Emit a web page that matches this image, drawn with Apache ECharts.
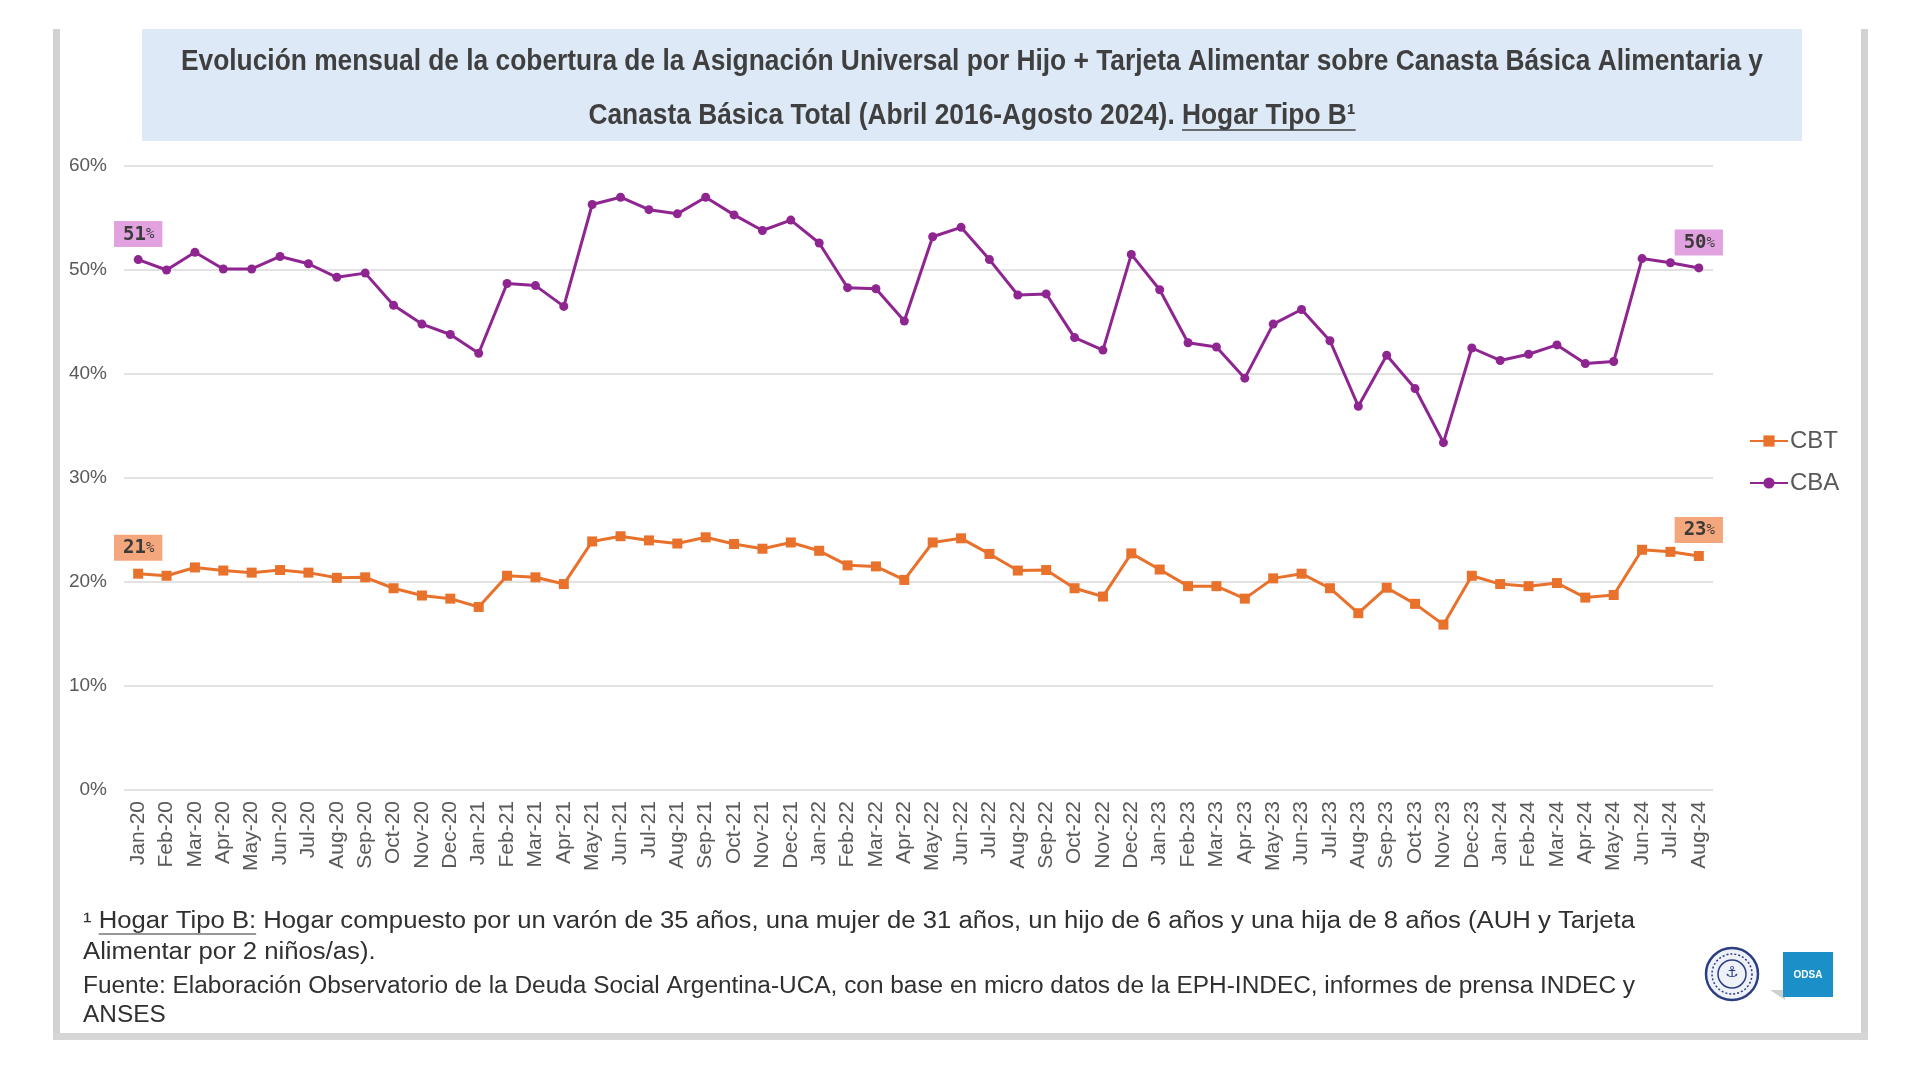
<!DOCTYPE html>
<html>
<head>
<meta charset="utf-8">
<script src="https://cdn.jsdelivr.net/npm/echarts@6/dist/echarts.min.js"></script>
<style>
html,body{margin:0;padding:0;background:#fff;}
#chart{width:1920px;height:1070px;}
</style>
</head>
<body>
<div id="chart"></div>
<script>
// ---------- DATA ----------
const categories = ['Jan-20','Feb-20','Mar-20','Apr-20','May-20','Jun-20','Jul-20','Aug-20','Sep-20','Oct-20','Nov-20','Dec-20',
  'Jan-21','Feb-21','Mar-21','Apr-21','May-21','Jun-21','Jul-21','Aug-21','Sep-21','Oct-21','Nov-21','Dec-21',
  'Jan-22','Feb-22','Mar-22','Apr-22','May-22','Jun-22','Jul-22','Aug-22','Sep-22','Oct-22','Nov-22','Dec-22',
  'Jan-23','Feb-23','Mar-23','Apr-23','May-23','Jun-23','Jul-23','Aug-23','Sep-23','Oct-23','Nov-23','Dec-23',
  'Jan-24','Feb-24','Mar-24','Apr-24','May-24','Jun-24','Jul-24','Aug-24'];

const cbtValues = [20.8,20.6,21.4,21.1,20.9,21.15,20.9,20.4,20.45,19.4,18.7,18.4,
  17.6,20.6,20.45,19.8,23.9,24.4,24.0,23.7,24.3,23.65,23.2,23.8,
  23.0,21.6,21.5,20.2,23.8,24.2,22.7,21.1,21.15,19.4,18.6,22.75,
  21.2,19.6,19.6,18.4,20.35,20.8,19.4,17.0,19.45,17.9,15.9,20.6,
  19.8,19.6,19.9,18.5,18.75,23.1,22.9,22.5];

const cbaValues = [51.0,50.0,51.7,50.1,50.1,51.3,50.6,49.3,49.7,46.6,44.8,43.8,
  42.0,48.7,48.5,46.5,56.3,57.0,55.8,55.4,57.0,55.3,53.8,54.8,
  52.6,48.3,48.2,45.1,53.2,54.1,51.0,47.6,47.7,43.5,42.3,51.5,
  48.1,43.0,42.6,39.6,44.8,46.2,43.2,36.9,41.8,38.6,33.4,42.5,
  41.3,41.9,42.8,41.0,41.2,51.1,50.7,50.2];

const seriesNames = ['CBT','CBA'];
const yTicks = {min:0, max:60, interval:10};

const titleLine1 = 'Evolución mensual de la cobertura de la Asignación Universal por Hijo + Tarjeta Alimentar sobre Canasta Básica Alimentaria y';
const titleLine2a = 'Canasta Básica Total (Abril 2016-Agosto 2024). ';
const titleLine2b = 'Hogar Tipo B¹';
const note1a = '¹ ';
const note1b = 'Hogar Tipo B:';
const note1c = ' Hogar compuesto por un varón de 35 años, una mujer de 31 años, un hijo de 6 años y una hija de 8 años (AUH y Tarjeta';
const note2 = 'Alimentar por 2 niños/as).';
const note3 = 'Fuente: Elaboración Observatorio de la Deuda Social Argentina-UCA, con base en micro datos de la EPH-INDEC, informes de prensa INDEC y';
const note4 = 'ANSES';

// ---------- HELPERS ----------
const mctx = document.createElement('canvas').getContext('2d');
function tw(text, font){ mctx.font = font; return mctx.measureText(text).width; }

const C_CBA = '#8e2590';
const C_CBT = '#e8712c';

function withEndLabels(vals, bg){
  const last = vals.length - 1;
  return vals.map((v,i) => (i===0 || i===last) ? {
    value: v,
    label: {
      show: true, position: 'top', distance: 8,
      formatter: p => '{n|' + Math.round(p.value) + '}{p|%}',
      backgroundColor: bg, padding: [4,8,3,9],
      rich: {
        n: {fontFamily:'DejaVu Sans Mono', fontWeight:'bold', fontSize:19, color:'#3a3a3a'},
        p: {fontFamily:'DejaVu Sans Mono', fontSize:14, color:'#3a3a3a'}
      }
    }
  } : v);
}

// ---------- TITLE / NOTES LAYOUT ----------
const titleFont = 'bold 29px "Liberation Sans"';
const tScale = 1582 / tw(titleLine1, titleFont);
const cx = 972;
const w2a = tw(titleLine2a, titleFont) * tScale;
const w2b = tw(titleLine2b, titleFont) * tScale;
const t2start = cx - (w2a + w2b) / 2;

const nFont = '23px "Liberation Sans"';
const nScale1 = 1552 / tw(note1a + note1b + note1c, nFont);
const nScale3 = 1552 / tw(note3, nFont);
const nx = 83;
const wn1a = tw(note1a, nFont) * nScale1, wn1b = tw(note1b, nFont) * nScale1;
const noteColor = '#303030';

const graphics = [
  // card borders
  {type:'rect', shape:{x:53, y:29, width:7, height:1010}, style:{fill:'#d2d2d2'}, z:0},
  {type:'rect', shape:{x:1861, y:29, width:7, height:1010}, style:{fill:'#d2d2d2'}, z:0},
  {type:'rect', shape:{x:53, y:1033, width:1815, height:7}, style:{fill:'#d6d6d6'}, z:0},
  // title box
  {type:'rect', shape:{x:142, y:29, width:1660, height:112}, style:{fill:'#dde9f6'}, z:1},
  {type:'text', x:cx, y:62, scaleX:tScale, style:{text:titleLine1, font:titleFont, fill:'#3f3f3f', textAlign:'center', textVerticalAlign:'middle'}, z:2},
  {type:'text', x:t2start, y:116, scaleX:tScale, style:{text:titleLine2a, font:titleFont, fill:'#3f3f3f', textAlign:'left', textVerticalAlign:'middle'}, z:2},
  {type:'text', x:t2start + w2a, y:116, scaleX:tScale, style:{text:titleLine2b, font:titleFont, fill:'#3f3f3f', textAlign:'left', textVerticalAlign:'middle'}, z:2},
  {type:'line', shape:{x1:t2start + w2a, y1:130, x2:t2start + w2a + w2b, y2:130}, style:{stroke:'#3f3f3f', lineWidth:1.5}, z:2},
  // footnotes
  {type:'text', x:nx, y:922, scaleX:nScale1, style:{text:note1a, font:nFont, fill:noteColor, textVerticalAlign:'middle'}},
  {type:'text', x:nx + wn1a, y:922, scaleX:nScale1, style:{text:note1b, font:nFont, fill:noteColor, textVerticalAlign:'middle'}},
  {type:'line', shape:{x1:nx + wn1a, y1:934, x2:nx + wn1a + wn1b, y2:934}, style:{stroke:noteColor, lineWidth:1.2}},
  {type:'text', x:nx + wn1a + wn1b, y:922, scaleX:nScale1, style:{text:note1c, font:nFont, fill:noteColor, textVerticalAlign:'middle'}},
  {type:'text', x:nx, y:953, scaleX:nScale1, style:{text:note2, font:nFont, fill:noteColor, textVerticalAlign:'middle'}},
  {type:'text', x:nx, y:987, scaleX:nScale3, style:{text:note3, font:nFont, fill:noteColor, textVerticalAlign:'middle'}},
  {type:'text', x:nx, y:1016, scaleX:nScale3, style:{text:note4, font:nFont, fill:noteColor, textVerticalAlign:'middle'}},
  // logos
  {type:'circle', shape:{cx:1732, cy:974, r:26}, style:{fill:'#eef1f8', stroke:'#2b3f80', lineWidth:2.5}},
  {type:'circle', shape:{cx:1732, cy:974, r:20}, style:{fill:'none', stroke:'#2b3f80', lineWidth:1.5, lineDash:[2,2]}},
  {type:'circle', shape:{cx:1732, cy:974, r:14}, style:{fill:'none', stroke:'#2b3f80', lineWidth:1.5}},
  {type:'text', x:1732, y:973, style:{text:'⚓', font:'15px "DejaVu Sans"', fill:'#2b3f80', textAlign:'center', textVerticalAlign:'middle'}},
  {type:'polygon', shape:{points:[[1770,990],[1785,990],[1785,1000]]}, style:{fill:'#cfcfcf'}},
  {type:'rect', shape:{x:1783, y:952, width:50, height:45}, style:{fill:'#1b8fc8'}},
  {type:'text', x:1808, y:975, style:{text:'ODSA', font:'bold 10px "Liberation Sans"', fill:'#ffffff', textAlign:'center', textVerticalAlign:'middle'}}
];

// ---------- CHART ----------
const chart = echarts.init(document.getElementById('chart'), null, {renderer:'canvas'});
chart.setOption({
  animation: false,
  backgroundColor: '#ffffff',
  grid: {left:124, right:207, top:166, bottom:280, containLabel:false},
  legend: {
    orient:'vertical', left:1744, top:424, itemGap:18,
    itemWidth:38, itemHeight:14,
    data: seriesNames,
    textStyle:{fontFamily:'Liberation Sans', fontSize:24, color:'#595959', padding:[0,0,0,-3]}
  },
  xAxis: {
    type:'category', data: categories, boundaryGap:true,
    axisLine:{show:false}, axisTick:{show:false},
    axisLabel:{interval:0, rotate:90, margin:11, fontFamily:'Liberation Sans', fontSize:21, color:'#595959'}
  },
  yAxis: {
    type:'value', min:yTicks.min, max:yTicks.max, interval:yTicks.interval,
    axisLine:{show:false}, axisTick:{show:false},
    axisLabel:{formatter:'{value}%', margin:17, fontFamily:'Liberation Sans', fontSize:19, color:'#595959'},
    splitLine:{lineStyle:{color:'#d9d9d9', width:1.5}}
  },
  series: [
    {
      name: seriesNames[0], type:'line', data: withEndLabels(cbtValues, '#f4a77c'),
      symbol:'rect', symbolSize:10, showAllSymbol:true,
      lineStyle:{color:C_CBT, width:3}, itemStyle:{color:C_CBT}, z:3
    },
    {
      name: seriesNames[1], type:'line', data: withEndLabels(cbaValues, '#e2a2e0'),
      symbol:'circle', symbolSize:9, showAllSymbol:true,
      lineStyle:{color:C_CBA, width:3}, itemStyle:{color:C_CBA}, z:3
    }
  ],
  graphic: graphics
});
</script>
</body>
</html>
